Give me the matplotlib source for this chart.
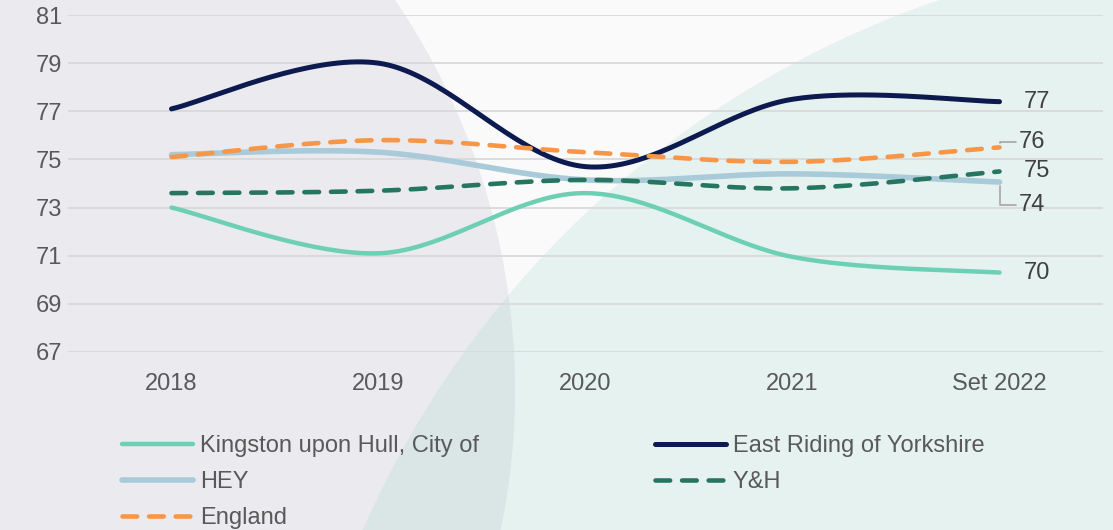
import numpy as np
import matplotlib
matplotlib.use("Agg")
import matplotlib.pyplot as plt
from matplotlib.patches import Circle, Rectangle
from matplotlib.lines import Line2D

plt.rcParams['font.family'] = ['Liberation Sans', 'DejaVu Sans']

# data
years = ['2018', '2019', '2020', '2021', 'Set 2022']
hull = [73.0, 71.1, 73.6, 70.95, 70.3]
east_riding = [77.1, 79.0, 74.7, 77.5, 77.4]
hey = [75.2, 75.3, 74.15, 74.4, 74.06]
yh = [73.6, 73.7, 74.15, 73.8, 74.5]
england = [75.1, 75.8, 75.3, 74.9, 75.5]
end_labels = ['70', '77', '74', '75', '76']

TXT = '#595959'
W, H = 1113, 530


def smooth(y, n=40):
    """excel-style smoothed line: bezier with 1/6 neighbour tangents"""
    y = np.asarray(y, float)
    x = np.arange(len(y), dtype=float)
    pts = np.column_stack([x, y])
    ext = np.vstack([pts[0], pts, pts[-1]])
    out = []
    t = np.linspace(0, 1, n)[:, None]
    for i in range(len(pts) - 1):
        p0, p3 = ext[i + 1], ext[i + 2]
        p1 = p0 + (ext[i + 2] - ext[i]) / 6
        p2 = p3 - (ext[i + 3] - ext[i + 1]) / 6
        seg = ((1 - t) ** 3) * p0 + 3 * ((1 - t) ** 2) * t * p1 + 3 * (1 - t) * t ** 2 * p2 + t ** 3 * p3
        out.append(seg if i == 0 else seg[1:])
    seg = np.vstack(out)
    return seg[:, 0], seg[:, 1]


fig = plt.figure(figsize=(W / 100, H / 100), dpi=100)

# background shapes
bg = fig.add_axes([0, 0, 1, 1], zorder=-1)
bg.set_xlim(0, W)
bg.set_ylim(H, 0)
bg.axis('off')
bg.add_patch(Rectangle((0, 0), W, H, fc='#FAFAFA', ec='none'))
grey = Circle((-179, 390), 694, fc='#EBEAEF', ec='none')
bg.add_patch(grey)
bg.add_patch(Circle((1253, 920), 972, fc='#E6F2F0', ec='none'))
over = Circle((1253, 920), 972, fc='#DAE5E5', ec='none')
bg.add_patch(over)
over.set_clip_path(grey)

ax = fig.add_axes([68 / W, 1 - 352 / H, (1103 - 68) / W, (352 - 15) / H])
ax.set_facecolor('none')
ax.set_xlim(-0.5, 4.5)
ax.set_ylim(67, 81)
ax.set_yticks(range(67, 82, 2))
ax.set_xticks(range(5))
ax.set_xticklabels(years)
ax.tick_params(axis='both', length=0, labelsize=17, labelcolor=TXT)
ax.tick_params(axis='x', pad=15)
ax.tick_params(axis='y', pad=4)
ax.grid(axis='y', color='#D9D9D9', lw=1.3)
ax.set_axisbelow(True)
for s in ax.spines.values():
    s.set_visible(False)

series = [
    ('Kingston upon Hull, City of', hull, '#6DCFB4', 3.2, None),
    ('East Riding of Yorkshire', east_riding, '#0C1A4F', 3.6, None),
    ('HEY', hey, '#A9CAD9', 4.0, None),
    ('Y&H', yh, '#267560', 3.3, (3.2, 2.6)),
    ('England', england, '#F79646', 3.3, (3.2, 2.6)),
]

handles = {}
for name, vals, col, lw, dash in series:
    xs, ys = smooth(vals)
    ln, = ax.plot(xs, ys, color=col, lw=lw, solid_capstyle='round', dash_capstyle='round')
    if dash:
        ln.set_dashes(dash)
    h = Line2D([], [], color=col, lw=lw, solid_capstyle='round', dash_capstyle='round')
    if dash:
        h.set_dashes(dash)
    handles[name] = h

# end labels
lab_kw = dict(textcoords='offset pixels', fontsize=17, color='#404040', va='center', ha='left')
ax.annotate(end_labels[0], (4, hull[-1]), xytext=(24, 0), **lab_kw)
ax.annotate(end_labels[1], (4, east_riding[-1]), xytext=(24, 0), **lab_kw)
ax.annotate(end_labels[3], (4, yh[-1]), xytext=(24, 0), **lab_kw)
lead = dict(arrowstyle='-', color='#A6A6A6', lw=1.2, shrinkA=0, shrinkB=3,
            connectionstyle='angle,angleA=0,angleB=90,rad=0', relpos=(0, 0.5))
ax.annotate(end_labels[4], (4, england[-1]), xytext=(19, 5), arrowprops=lead, **lab_kw)
ax.annotate(end_labels[2], (4, hey[-1]), xytext=(19, -23), arrowprops=lead, **lab_kw)

leg_kw = dict(frameon=False, loc='upper left', borderpad=0, borderaxespad=0,
              handlelength=3.0, handletextpad=0.3, labelspacing=0.6,
              prop={'size': 17}, labelcolor=TXT)
names1 = ['Kingston upon Hull, City of', 'HEY', 'England']
names2 = ['East Riding of Yorkshire', 'Y&H']
fig.legend([handles[n] for n in names1], names1,
           bbox_to_anchor=(122 / W, 1 - 435 / H), **leg_kw)
fig.legend([handles[n] for n in names2], names2,
           bbox_to_anchor=(655 / W, 1 - 435 / H), **leg_kw)

fig.savefig('out.png', dpi=100)
